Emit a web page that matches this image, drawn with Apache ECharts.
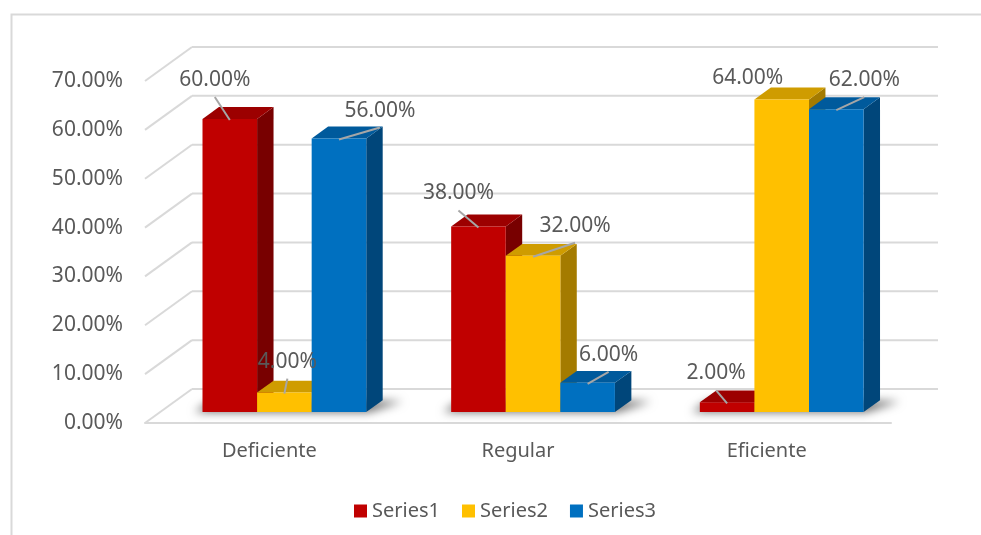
<!DOCTYPE html>
<html>
<head>
<meta charset="utf-8">
<script src="https://cdn.jsdelivr.net/npm/echarts@6/dist/echarts.min.js"></script>
<style>
  html, body { margin: 0; padding: 0; background: #ffffff; }
  #chart { width: 981px; height: 535px; }
</style>
</head>
<body>
<div id="chart"></div>
<script>
// Chart values
const categories = ['Deficiente', 'Regular', 'Eficiente'];
const seriesNames = ['Series1', 'Series2', 'Series3'];
const series1 = [0.60, 0.38, 0.02];
const series2 = [0.04, 0.32, 0.64];
const series3 = [0.56, 0.06, 0.62];
const yTicks = [0, 0.1, 0.2, 0.3, 0.4, 0.5, 0.6, 0.7];

// Styling for the pseudo-3D look
const FONT = 'Noto Sans';
const TEXT_COLOR = '#595959';
const GRID_COLOR = '#d9d9d9';
const frontColors = ['#C00000', '#FFC000', '#0070C0'];
const topColors = ['#9C0000', '#CF9C00', '#005A9C'];
const sideColors = ['#780000', '#A47B00', '#00467A'];
const DEPTH = [47, -34];          // oblique vector from front edge to back wall
const BAR_FRONT = 0.32;           // bar front plane, as a fraction of depth
const BAR_BACK = 0.67;            // bar back plane
const BAR_FRAC = 0.2195;          // bar width as a fraction of category band
// label offset from the bar's top-front centre: [dx, dy, showLeader]
const labelOffsets = [
  [[-15, -39, true], [-20, -33, true], [-11, -29, true]],
  [[3, -31, true], [42, -30, true], [-34, -21, false]],
  [[41, -28, true], [21, -28, true], [28, -29, true]]
];

const allSeries = [series1, series2, series3];
const fmtPct = v => (v * 100).toFixed(2) + '%';

function barGeom(api, s, ci, v) {
  const p0 = api.coord([ci, 0]);
  const p1 = api.coord([ci, v]);
  const band = api.size([1, 0])[0];
  const bw = band * BAR_FRAC;
  const fx = DEPTH[0] * BAR_FRONT, fy = DEPTH[1] * BAR_FRONT;
  const bx = DEPTH[0] * (BAR_BACK - BAR_FRONT), by = DEPTH[1] * (BAR_BACK - BAR_FRONT);
  const xl = p0[0] + fx + (s - 1.5) * bw;
  return { xl: xl, xr: xl + bw, yb: p0[1] + fy, yt: p1[1] + fy, bx: bx, by: by, bw: bw };
}

function makeBarRender(s) {
  return function (params, api) {
    const ci = api.value(0), v = api.value(1);
    const g = barGeom(api, s, ci, v);
    const children = [];
    children.push({
      type: 'polygon',
      shape: { points: [[g.xr, g.yb], [g.xr, g.yt], [g.xr + g.bx, g.yt + g.by], [g.xr + g.bx, g.yb + g.by]] },
      style: { fill: sideColors[s] }
    });
    children.push({
      type: 'polygon',
      shape: { points: [[g.xl, g.yt], [g.xr, g.yt], [g.xr + g.bx, g.yt + g.by], [g.xl + g.bx, g.yt + g.by]] },
      style: { fill: topColors[s] }
    });
    children.push({
      type: 'rect',
      shape: { x: g.xl, y: g.yt, width: g.bw, height: g.yb - g.yt },
      style: { fill: frontColors[s] }
    });
    const off = labelOffsets[s][ci];
    const xc = (g.xl + g.xr) / 2;
    const lx = xc + off[0], ly = g.yt + off[1];
    if (off[2]) {
      children.push({
        type: 'line',
        z2: 50,
        shape: { x1: lx, y1: ly + 17, x2: xc, y2: g.yt + 1 },
        style: { stroke: '#a6a6a6', lineWidth: 2 }
      });
    }
    children.push({
      type: 'text',
      z2: 60,
      style: {
        text: fmtPct(v), x: lx, y: ly, align: 'center', verticalAlign: 'middle',
        fontFamily: FONT, fontSize: 21, fill: TEXT_COLOR
      }
    });
    return { type: 'group', children: children };
  };
}

// Back wall, side wall and floor lines
function renderGrid(params, api) {
  const v = api.value(1);
  const cs = params.coordSys;
  const y = api.coord([0, v])[1];
  return {
    type: 'group',
    children: [
      { type: 'line', shape: { x1: cs.x + DEPTH[0], y1: y + DEPTH[1], x2: cs.x + cs.width + DEPTH[0], y2: y + DEPTH[1] },
        style: { stroke: GRID_COLOR, lineWidth: 2 } },
      { type: 'line', shape: { x1: cs.x, y1: y, x2: cs.x + DEPTH[0], y2: y + DEPTH[1] },
        style: { stroke: GRID_COLOR, lineWidth: 2 } }
    ]
  };
}

// Soft shadow cast on the floor by each group of bars
function renderShadow(params, api) {
  const ci = api.value(0);
  const a = barGeom(api, 0, ci, 0);
  const b = barGeom(api, 2, ci, 0);
  const SH = 4000;
  const pts = [
    [a.xl - 8, a.yb], [b.xr + 2, b.yb],
    [b.xr + b.bx + 20, b.yb + b.by + 1], [a.xl + a.bx - 8, a.yb + a.by + 1]
  ].map(p => [p[0] - SH, p[1]]);
  return {
    type: 'polygon',
    shape: { points: pts },
    style: { fill: '#000', shadowColor: 'rgba(0,0,0,0.6)', shadowBlur: 10, shadowOffsetX: SH, shadowOffsetY: 0 }
  };
}

const chart = echarts.init(document.getElementById('chart'));
const series = [
  {
    type: 'custom', name: 'grid', silent: true,
    renderItem: renderGrid,
    data: yTicks.map(t => [0, t]),
    encode: { x: 0, y: 1 }
  },
  {
    type: 'custom', name: 'shadow', silent: true,
    renderItem: renderShadow,
    data: categories.map((c, i) => [i, 0]),
    encode: { x: 0, y: 1 }
  }
];
allSeries.forEach((vals, s) => {
  series.push({
    type: 'custom',
    name: seriesNames[s],
    itemStyle: { color: frontColors[s] },
    renderItem: makeBarRender(s),
    data: vals.map((v, i) => [i, v]),
    encode: { x: 0, y: 1 }
  });
});

chart.setOption({
  animation: false,
  backgroundColor: '#ffffff',
  graphic: [{
    type: 'rect', left: 9, top: 12,
    shape: { width: 1000, height: 600 },
    style: { fill: 'none', stroke: GRID_COLOR, lineWidth: 2 }
  }],
  grid: { left: 145, right: 90, top: 81, bottom: 112 },
  xAxis: {
    type: 'category',
    data: categories,
    axisLine: { lineStyle: { color: GRID_COLOR, width: 2 } },
    axisTick: { show: false },
    axisLabel: { margin: 18, fontFamily: FONT, fontSize: 20, color: TEXT_COLOR }
  },
  yAxis: {
    type: 'value',
    min: 0, max: 0.7, interval: 0.1,
    axisLine: { show: false },
    axisTick: { show: false },
    splitLine: { show: false },
    axisLabel: { margin: 22, fontFamily: FONT, fontSize: 21, color: TEXT_COLOR, formatter: fmtPct }
  },
  legend: {
    data: seriesNames,
    left: 349, top: 496,
    icon: 'rect',
    itemWidth: 13, itemHeight: 13, itemGap: 22,
    textStyle: { fontFamily: FONT, fontSize: 20, color: TEXT_COLOR, padding: [0, 0, 0, 0] }
  },
  series: series
});
</script>
</body>
</html>
